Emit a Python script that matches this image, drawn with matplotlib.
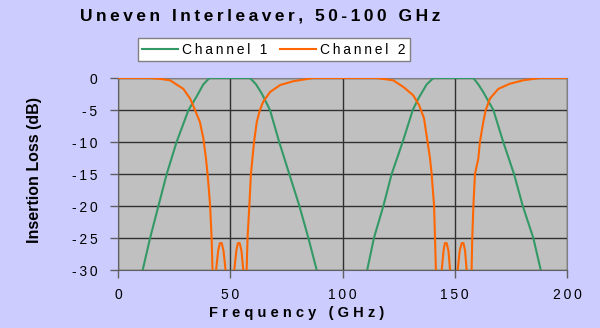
import matplotlib
matplotlib.use('Agg')
from matplotlib import pyplot as plt

plt.rcParams['font.family'] = ['Liberation Sans', 'DejaVu Sans']

# Channel 1 (green) - frequency in GHz, insertion loss in dB
ch1_freq = [0, 8, 11, 14.3, 18, 21.7, 26.1, 31.4, 35, 38, 40.7, 58.8, 61.5, 64, 67.7,
            71.8, 76.3, 80.8, 84.8, 88.5, 92, 108, 111, 114, 118.2, 121.9, 126.8, 131.3,
            133.8, 137.5, 140.5, 158.3, 160.5, 162.7, 167.2, 171.6, 176.4, 180.3, 185,
            188.3, 192, 200]
ch1_db = [-45, -34, -30, -25, -20, -15, -10, -5, -2.9, -1.0, 0, 0, -1.0, -2.4, -5,
          -10, -15, -20, -25, -30, -36, -36, -30, -25, -20, -15, -10, -5,
          -3.2, -1.0, 0, 0, -1.0, -2.2, -5, -10, -15, -20, -25,
          -30, -36, -45]

# Channel 2 (orange)
ch2_freq = [0, 14, 18, 23.2, 29.1, 32.1, 34.3, 36.5, 38, 39.2, 40.2, 41, 41.7, 42.1, 42.4,
            43.2, 43.7, 44.6, 45.4, 46.2, 47.0, 47.9, 48.4,
            51.3, 51.8, 52.7, 53.4, 54.2, 55.0, 55.8, 56.3,
            57.0, 57.3, 57.7, 58.5, 59.2, 60.6, 61.8, 63.2, 64.7, 67.7, 72.2, 78.1, 87,
            107.8, 115.2, 122.6, 127.1, 131.5, 134.2, 136.3, 137.9, 139, 139.7, 140.8,
            141.2, 141.6, 141.9,
            143.8, 144.2, 145.0, 145.6, 146.4, 147.2, 147.9, 148.3,
            150.9, 151.3, 152.2, 153.1, 153.9, 154.6, 155.3, 155.7,
            157.2, 157.5, 157.8, 158.3, 159, 160.5, 161.2, 162.7, 163.8, 165.7, 169.4,
            174.5, 180.5, 188, 200]
ch2_db = [0, 0, -0.1, -0.36, -1.7, -3.2, -5, -6.9, -9.4, -12.6, -16.2, -19.8, -25, -30, -32,
          -32, -30, -27, -25.8, -25.8, -27, -30, -32,
          -32, -30, -27, -25.8, -25.8, -27, -30, -32,
          -32, -30, -25, -20, -15, -10, -6.9, -5, -3.7, -2.2, -1.1, -0.5, 0,
          0, 0, -0.36, -1.4, -2.7, -4.3, -6.3, -10, -12.6, -15, -20,
          -25, -30, -32,
          -32, -30, -27, -25.8, -25.8, -27, -30, -32,
          -32, -30, -27, -25.8, -25.8, -27, -30, -32,
          -32, -30, -25, -20, -15, -12.6, -10, -6.9, -5, -3.2, -1.7,
          -0.9, -0.36, 0, 0]

x_ticks = [0, 50, 100, 150, 200]
x_labels = ['0', '50', '100', '150', '200']
y_ticks = [0, -5, -10, -15, -20, -25, -30]
y_labels = ['0', '-5', '-10', '-15', '-20', '-25', '-30']

THIN = '\u2009'


def spaced(s, sep=THIN):
    # Excel style letter spacing
    return sep.join(s)


bg = '#CCCCFF'
fig = plt.figure(figsize=(6, 3.28), dpi=100, facecolor=bg)
ax = fig.add_axes([118 / 600, 1 - 270 / 328, 449 / 600, 192 / 328])
ax.set_facecolor('#C0C0C0')

ax.plot(ch1_freq, ch1_db, color='#339966', lw=1.5, label=spaced('Channel 1'), zorder=3)
ax.plot(ch2_freq, ch2_db, color='#FF6600', lw=1.5, label=spaced('Channel 2'), zorder=3)

ax.set_xlim(0, 200)
ax.set_ylim(-30, 0)
ax.set_xticks(x_ticks)
ax.set_xticklabels([spaced(t) for t in x_labels])
ax.set_yticks(y_ticks)
ax.set_yticklabels([spaced(t) for t in y_labels])
ax.tick_params(direction='out', length=5.8, width=1, color='#606060', labelsize=10,
               labelcolor='black')
ax.tick_params(axis='y', pad=9)
ax.tick_params(axis='x', pad=7)
ax.grid(True, color='#303030', lw=1, zorder=1)
ax.set_axisbelow(True)
for side in ['top', 'right']:
    ax.spines[side].set_color('#808080')
for side in ['left', 'bottom']:
    ax.spines[side].set_color('#606060')

# axis titles (Excel centres them on the chart area, not the plot area)
fig.text(297 / 600, 1 - 313 / 328, spaced('Frequency (GHz)', ' '), ha='center',
         va='center', fontsize=10.5, fontweight='bold')
fig.text(35 / 600, 1 - 170 / 328, 'Insertion Loss (dB)', ha='center', va='center',
         rotation=90, fontsize=11.5, fontweight='bold')

fig.text(260 / 600, 1 - 16 / 328, spaced('Uneven Interleaver, 50-100 GHz'), ha='center',
         va='center', fontsize=12.5, fontweight='bold')

leg = fig.legend(loc='center', bbox_to_anchor=(274 / 600, 1 - 49.5 / 328), ncol=2,
                 fontsize=10, frameon=True, fancybox=False, edgecolor='#808080',
                 framealpha=1, handlelength=2.6, handletextpad=0.3, columnspacing=0.9,
                 borderpad=0.3)
leg.get_frame().set_linewidth(1)

fig.savefig('out.png', dpi=100, facecolor=bg)
